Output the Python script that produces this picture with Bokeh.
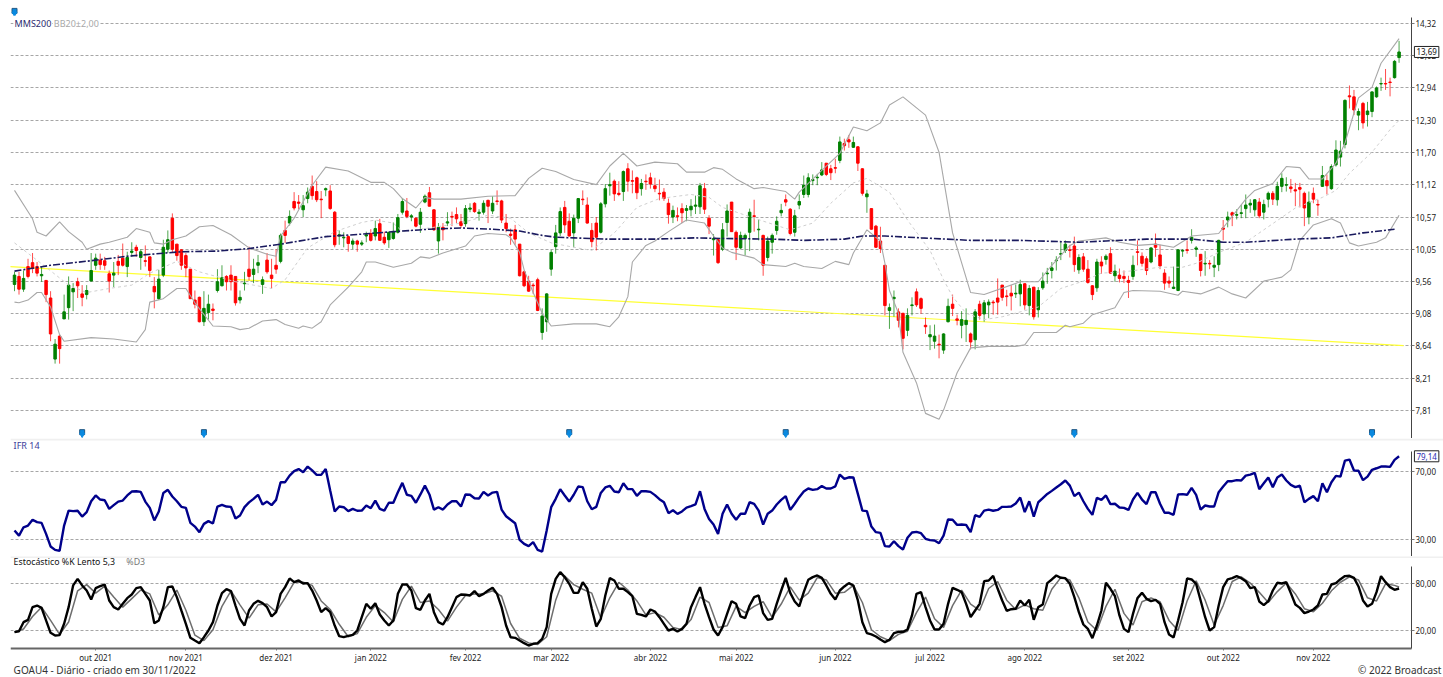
from bokeh.plotting import figure
from bokeh.layouts import column
from bokeh.models import Range1d, FixedTicker, Label, Span, ColumnDataSource
from bokeh.embed import file_html
from bokeh.resources import INLINE

opens = [9.51,9.63,9.44,9.78,9.84,9.78,9.64,9.57,9.31,8.46,
8.77,9.01,9.17,9.40,9.55,9.37,9.36,9.56,9.80,9.88,
9.87,9.67,9.65,9.86,9.91,9.78,10.00,10.08,9.92,9.87,
9.93,9.48,9.30,9.65,10.05,10.55,10.13,10.04,9.95,9.74,
9.28,9.32,8.97,9.10,9.15,9.42,9.49,9.63,9.65,9.63,
9.28,9.52,9.74,9.66,9.80,9.51,9.88,9.65,9.80,9.86,
10.35,10.47,10.83,10.82,10.69,10.88,11.09,11.00,10.87,11.03,
11.01,10.65,10.26,10.23,10.25,10.13,10.18,10.13,10.26,10.30,
10.26,10.46,10.24,10.20,10.22,10.32,10.65,10.67,10.57,10.55,
10.45,10.82,10.98,10.69,10.18,10.40,10.47,10.58,10.61,10.49,
10.46,10.70,10.80,10.63,10.65,10.85,10.67,10.84,10.84,10.47,
10.29,10.36,10.13,9.70,9.56,9.50,9.58,8.82,8.97,9.74,
10.09,10.31,10.73,10.50,10.31,10.55,10.87,10.77,10.35,10.47,
10.32,10.79,11.10,11.18,10.97,11.00,11.40,11.19,11.24,11.05,
11.18,11.24,11.10,10.97,10.99,10.80,10.57,10.59,10.71,10.68,
10.69,10.75,10.74,11.05,10.55,10.20,10.20,10.05,10.48,10.82,
10.32,10.07,10.22,10.32,10.59,10.36,10.27,9.92,10.16,10.35,
10.64,10.86,10.70,10.32,10.77,10.95,10.95,11.19,11.24,11.29,
11.50,11.40,11.42,11.55,11.86,11.93,11.79,11.80,11.40,10.91,
10.71,10.42,10.18,9.80,9.13,9.30,9.11,9.09,8.85,9.20,
9.40,9.30,8.92,8.76,8.70,8.66,8.58,8.97,9.22,9.01,
8.92,8.93,8.80,8.72,9.22,9.08,9.21,9.25,9.31,9.50,
9.34,9.38,9.37,9.37,9.52,9.20,9.47,9.14,9.46,9.67,
9.72,9.87,9.97,10.03,10.04,10.10,9.73,9.93,9.74,9.49,
9.46,9.85,9.89,9.98,9.64,9.65,9.63,9.57,9.63,10.01,
9.94,9.90,9.85,10.13,9.96,9.68,9.56,9.45,9.42,10.02,
10.04,10.19,10.05,9.97,9.82,9.83,9.77,9.81,10.39,10.52,
10.64,10.60,10.63,10.71,10.77,10.69,10.82,10.65,10.87,10.97,
10.86,11.09,11.11,11.08,11.03,11.07,10.97,10.57,10.97,10.78,
11.09,11.19,11.05,11.47,11.61,11.84,12.78,12.76,12.40,12.63,
12.41,12.47,12.76,13.02,13.03,13.06,13.15,13.57]

closes = [9.65,9.44,9.60,9.63,9.75,9.68,9.66,9.36,8.80,8.66,
8.60,9.11,9.50,9.45,9.49,9.32,9.42,9.72,9.91,9.81,
9.80,9.56,9.68,9.80,9.80,9.92,10.02,10.03,10.01,9.86,
9.72,9.40,9.59,10.08,10.20,10.05,9.95,9.80,9.76,9.30,
9.22,8.97,9.16,9.22,9.13,9.55,9.61,9.55,9.55,9.24,
9.32,9.53,9.63,9.74,9.84,9.58,9.70,9.60,9.74,10.27,
10.27,10.58,10.72,10.80,10.76,10.99,10.93,10.86,10.86,11.05,
10.71,10.12,10.28,10.24,10.14,10.18,10.13,10.15,10.28,10.19,
10.38,10.19,10.15,10.32,10.33,10.56,10.83,10.58,10.59,10.42,
10.65,10.92,10.75,10.36,10.40,10.36,10.49,10.57,10.54,10.43,
10.71,10.72,10.66,10.65,10.80,10.75,10.80,10.83,10.52,10.38,
10.27,10.21,9.64,9.49,9.41,9.49,9.13,9.05,9.37,10.00,
10.31,10.66,10.44,10.26,10.55,10.88,10.86,10.47,10.17,10.24,
10.79,11.05,11.12,10.96,10.95,11.35,11.18,11.18,10.98,11.14,
11.17,11.13,11.05,10.96,10.88,10.61,10.68,10.58,10.64,10.71,
10.75,10.77,11.10,10.70,10.42,10.22,9.84,10.36,10.67,10.33,
10.08,10.27,10.27,10.65,10.58,10.37,9.80,10.18,10.27,10.50,
10.68,10.82,10.30,10.59,10.83,11.11,11.24,11.21,11.25,11.38,
11.30,11.33,11.41,11.89,11.82,11.89,11.88,11.50,10.97,10.96,
10.37,10.08,10.06,9.20,9.17,9.32,8.99,8.74,9.06,9.21,
9.21,9.16,8.90,8.79,8.77,8.65,8.80,9.19,9.16,8.99,
9.00,8.99,8.69,9.11,9.06,9.24,9.25,9.24,9.25,9.32,
9.33,9.34,9.38,9.51,9.21,9.45,9.04,9.42,9.56,9.68,
9.76,9.88,9.98,10.13,10.03,9.81,9.92,9.74,9.54,9.36,
9.85,9.79,9.94,9.68,9.71,9.60,9.60,9.54,9.80,10.00,
9.83,9.72,10.07,10.08,9.79,9.53,9.53,9.47,10.04,10.03,
10.03,10.24,10.07,9.72,9.83,9.82,9.80,10.19,10.37,10.57,
10.60,10.61,10.64,10.77,10.80,10.86,10.59,10.78,10.97,10.87,
11.09,11.23,11.12,11.05,11.01,11.04,10.72,10.82,10.87,10.77,
11.28,11.10,11.44,11.74,11.72,12.69,12.76,12.50,12.47,12.25,
12.48,12.86,12.94,13.03,13.02,13.05,13.49,13.69]

highs = [9.70,9.70,9.72,9.90,9.99,9.85,9.78,9.57,9.41,8.73,
8.79,9.36,9.63,9.53,9.61,9.50,9.50,9.99,9.98,9.98,
9.93,9.72,9.85,9.96,10.14,10.01,10.16,10.12,10.05,10.11,
9.93,9.62,9.73,10.20,10.35,10.63,10.13,10.05,9.99,9.74,
9.42,9.33,9.41,9.36,9.23,9.74,9.80,9.65,9.80,9.63,
9.42,9.70,10.09,9.90,9.96,9.63,9.99,9.90,10.05,10.30,
10.51,10.68,10.99,10.94,10.94,11.07,11.28,11.18,11.01,11.07,
11.11,10.67,10.35,10.32,10.27,10.22,10.20,10.19,10.33,10.37,
10.51,10.54,10.33,10.33,10.48,10.62,10.89,10.89,10.62,10.57,
10.72,10.95,11.08,10.70,10.47,10.47,10.65,10.66,10.73,10.62,
10.77,10.80,10.82,10.70,10.85,10.86,10.92,11.02,10.86,10.62,
10.38,10.44,10.13,9.72,9.64,9.53,9.61,9.16,9.38,10.04,
10.44,10.73,10.84,10.63,10.61,10.89,11.02,10.90,10.47,10.57,
10.82,11.13,11.33,11.21,11.18,11.37,11.50,11.37,11.26,11.22,
11.30,11.33,11.24,11.21,11.06,10.88,10.76,10.73,10.80,10.77,
10.87,10.93,11.15,11.15,10.60,10.29,10.21,10.47,10.78,10.82,
10.35,10.33,10.30,10.71,10.86,10.53,10.28,10.25,10.30,10.58,
10.79,10.95,10.72,10.69,10.95,11.28,11.32,11.30,11.31,11.52,
11.50,11.47,11.58,11.99,11.95,12.02,11.99,11.81,11.41,11.03,
10.71,10.44,10.41,9.80,9.23,9.42,9.16,9.09,9.16,9.32,
9.45,9.32,9.03,8.92,8.93,8.79,8.81,9.30,9.36,9.07,
9.12,9.16,8.82,9.15,9.27,9.28,9.29,9.28,9.60,9.50,
9.43,9.50,9.51,9.58,9.53,9.50,9.47,9.47,9.69,9.76,
9.85,9.94,10.17,10.19,10.12,10.25,9.97,9.99,9.88,9.50,
9.90,9.94,9.97,10.08,9.81,9.75,9.72,9.64,9.95,10.19,
10.00,9.94,10.08,10.30,10.12,9.74,9.63,9.78,10.05,10.05,
10.19,10.37,10.10,9.97,10.02,9.88,9.94,10.20,10.52,10.66,
10.66,10.70,10.77,10.95,10.87,10.87,10.89,10.86,11.00,11.01,
11.17,11.32,11.25,11.22,11.15,11.15,11.00,11.00,11.07,10.86,
11.45,11.30,11.48,11.92,11.91,12.71,12.99,12.90,12.53,12.66,
12.66,12.87,12.97,13.15,13.33,13.15,13.52,13.93]

lows = [9.41,9.36,9.40,9.60,9.68,9.63,9.55,9.25,8.70,8.40,
8.40,9.01,9.00,9.12,9.31,9.19,9.29,9.56,9.73,9.73,
9.73,9.39,9.47,9.65,9.78,9.62,9.93,9.93,9.73,9.78,
9.62,9.16,9.28,9.62,9.99,9.99,9.87,9.73,9.62,9.30,
9.16,8.96,8.91,9.00,8.99,9.39,9.48,9.42,9.42,9.20,
9.23,9.42,9.57,9.53,9.68,9.37,9.67,9.45,9.67,9.83,
10.15,10.43,10.68,10.70,10.57,10.80,10.86,10.82,10.55,10.92,
10.69,10.08,10.12,10.08,10.01,10.05,10.01,10.10,10.16,10.17,
10.19,10.19,10.12,10.07,10.20,10.30,10.61,10.55,10.50,10.40,
10.31,10.80,10.75,10.34,9.98,10.19,10.42,10.42,10.47,10.39,
10.41,10.65,10.64,10.51,10.61,10.47,10.62,10.77,10.47,10.32,
10.12,10.12,9.63,9.47,9.40,9.37,9.12,8.72,8.83,9.64,
9.98,10.26,10.31,10.25,10.08,10.47,10.77,10.46,10.08,10.03,
10.30,10.73,10.93,10.84,10.92,10.84,11.00,10.97,10.87,10.93,
11.03,11.05,10.99,10.85,10.84,10.46,10.47,10.50,10.47,10.50,
10.58,10.62,10.62,10.62,10.29,9.95,9.82,10.02,10.25,10.33,
9.88,10.05,9.95,10.02,10.33,10.19,9.64,9.86,9.98,10.28,
10.58,10.75,10.27,10.25,10.70,10.89,10.90,11.11,11.11,11.27,
11.27,11.20,11.32,11.50,11.73,11.78,11.78,11.36,10.93,10.64,
10.36,10.07,9.99,9.06,8.87,9.04,8.89,8.59,8.77,9.06,
9.18,9.08,8.80,8.58,8.60,8.47,8.53,8.96,9.05,8.92,
8.74,8.69,8.59,8.59,9.00,8.97,9.02,9.07,9.07,9.27,
9.19,9.13,9.31,9.19,9.14,9.06,9.00,9.03,9.43,9.52,
9.60,9.72,9.88,9.99,9.92,9.70,9.67,9.70,9.52,9.28,
9.40,9.67,9.81,9.67,9.55,9.54,9.53,9.31,9.58,9.80,
9.78,9.65,9.83,9.93,9.74,9.43,9.46,9.44,9.41,9.93,
9.98,10.14,9.93,9.63,9.64,9.74,9.62,9.71,10.19,10.40,
10.42,10.53,10.55,10.55,10.64,10.58,10.55,10.53,10.73,10.77,
10.76,10.99,11.00,10.98,10.75,10.73,10.42,10.45,10.80,10.59,
11.08,10.95,11.03,11.44,11.44,11.77,12.53,12.40,12.11,12.14,
12.18,12.36,12.74,12.88,12.90,12.77,13.13,13.46]

upper_idx = [0,4,5,7,10,12,15,16,19,21,25,27,30,31,33,35,38,41,44,48,52,56,58,59,62,66,69,74,77,79,82,84,86,89,91,93,99,105,111,114,117,120,124,129,132,135,138,142,147,149,153,155,157,160,164,166,171,173,174,179,183,186,189,192,194,197,202,205,208,212,215,223,227,230,234,236,242,245,249,253,257,261,267,273,275,279,282,285,287,290,293,295,298,301,303,307]
upper_val = [11.02,10.54,10.32,10.26,10.49,10.33,10.16,10.05,10.13,10.16,10.24,10.38,10.32,10.15,10.13,10.20,10.26,10.41,10.43,10.28,10.07,9.97,9.94,10.26,10.55,11.11,11.43,11.36,11.24,11.16,11.16,11.05,10.88,10.72,10.90,10.87,10.87,10.92,10.93,11.23,11.41,11.35,11.21,11.12,11.45,11.68,11.45,11.52,11.49,11.34,11.34,11.42,11.39,11.22,11.05,11.07,11.00,10.87,10.99,11.37,11.68,12.17,12.10,12.25,12.60,12.76,12.40,11.70,10.31,9.39,9.36,9.55,9.55,9.80,10.11,10.18,10.23,10.16,10.11,10.13,10.08,10.26,10.30,10.87,11.02,11.14,11.44,11.42,11.22,11.22,11.50,11.87,12.74,12.95,13.45,13.98]

lower_idx = [0,1,3,5,6,8,10,11,17,22,27,29,30,33,36,38,40,44,48,50,52,55,58,60,63,64,66,68,70,74,77,78,80,84,88,90,92,95,100,102,105,109,110,112,113,115,117,119,124,129,132,134,136,137,140,142,145,149,153,155,157,159,164,166,171,173,175,179,182,185,186,189,192,193,194,196,197,200,202,205,206,209,212,216,222,224,226,231,233,234,237,239,244,246,248,254,258,259,263,267,270,273,277,281,283,285,288,292,294,296,298,302,304,307]
lower_val = [9.25,9.24,9.28,9.39,9.39,9.18,8.79,8.70,8.75,8.73,8.69,8.86,9.25,9.30,9.45,9.45,9.24,8.91,8.90,8.86,8.88,8.98,9.00,8.93,8.88,8.91,8.88,8.97,9.21,9.47,9.70,9.85,9.85,9.77,9.83,9.93,9.91,9.99,10.10,10.26,10.30,10.28,10.23,10.00,9.73,9.39,9.09,8.91,8.94,8.94,8.90,9.04,9.33,9.85,10.11,10.18,10.33,10.52,10.47,10.26,10.07,10.00,9.91,9.81,9.78,9.83,9.78,9.75,9.86,9.81,9.99,10.36,10.18,9.83,9.42,9.09,8.55,8.15,7.77,7.70,7.81,8.28,8.61,8.63,8.63,8.65,8.82,8.82,8.92,8.90,8.95,9.07,9.17,9.39,9.42,9.41,9.35,9.41,9.37,9.47,9.37,9.31,9.56,9.62,9.73,10.19,10.44,10.54,10.47,10.15,10.10,10.16,10.23,10.60]

mid_idx = [0,7,12,16,21,26,30,36,41,49,57,60,65,71,77,80,84,86,92,99,105,110,114,119,124,128,133,138,143,150,154,157,164,169,172,177,181,186,189,194,198,203,206,208,211,215,219,227,232,237,241,246,254,259,262,267,273,278,284,290,293,296,301,305,307]
mid_val = [10.15,9.77,9.50,9.39,9.45,9.50,9.68,9.86,9.70,9.55,9.45,9.58,10.07,10.33,10.48,10.52,10.47,10.33,10.39,10.47,10.60,10.55,10.31,10.15,10.08,10.03,10.31,10.73,10.88,10.95,10.90,10.73,10.55,10.43,10.36,10.47,10.80,11.15,11.23,10.99,10.52,10.03,9.58,9.33,9.09,9.00,9.04,9.18,9.45,9.56,9.68,9.70,9.77,9.77,9.83,10.00,10.16,10.41,10.72,10.90,11.02,11.32,11.70,12.12,12.30]

mms_idx = [0,8,17,25,37,45,52,59,69,77,84,92,99,106,112,117,120,124,131,142,151,157,168,175,184,188,193,201,212,223,236,242,251,261,268,273,284,292,299,306]
mms_val = [9.71,9.80,9.87,9.94,10.01,10.02,10.06,10.13,10.25,10.29,10.33,10.37,10.39,10.37,10.34,10.27,10.24,10.23,10.21,10.21,10.23,10.22,10.21,10.19,10.21,10.26,10.26,10.23,10.19,10.19,10.16,10.18,10.21,10.21,10.16,10.16,10.21,10.23,10.31,10.37]

trend_idx = [-1,308]
trend_val = [9.78,8.64]

event_idx = [15,42,123,171,235,301]
top_event_idx = [0]

price_ticks = [14.32,13.62,12.94,12.30,11.70,11.12,10.57,10.05,9.56,9.08,8.64,8.21,7.81]
price_labels = ["14,32","13,62","12,94","12,30","11,70","11,12","10,57","10,05","9,56","9,08","8,64","8,21","7,81"]

ifr = [35.5,32.5,37.4,38.4,41.8,40.4,40.0,33.5,26.1,24.1,23.5,38.4,47.2,46.9,47.1,43.7,46.3,52.7,56.1,53.7,53.3,48.2,50.4,52.5,53.1,56.1,58.4,58.6,58.2,52.5,48.8,41.4,46.7,57.6,59.4,55.5,52.7,49.4,48.8,40.0,37.8,34.5,39.4,41.0,39.6,49.6,50.6,49.6,49.4,42.5,44.3,49.2,52.0,54.1,56.5,50.8,52.5,50.4,53.5,63.9,63.9,67.8,70.4,71.6,69.8,73.1,70.8,68.2,68.2,71.6,59.0,46.7,49.6,49.2,46.9,48.2,47.1,47.2,50.2,48.6,53.1,48.2,47.2,51.8,51.8,58.0,63.5,56.5,55.9,51.8,56.7,61.9,56.7,47.8,49.2,47.8,50.8,52.7,52.7,49.6,56.7,56.5,54.5,54.3,
58.2,56.1,57.8,58.2,47.8,43.9,41.8,39.8,30.0,27.6,26.3,28.6,24.1,23.1,35.5,49.2,54.1,59.8,56.1,52.5,56.5,61.4,61.0,52.7,48.0,49.4,57.6,60.8,61.8,58.4,58.0,63.3,59.8,59.8,55.9,58.6,58.6,58.2,56.3,53.9,52.1,45.7,47.4,45.3,46.7,49.0,49.8,50.8,58.6,48.2,42.3,39.0,33.5,45.3,50.8,45.3,41.8,45.3,45.3,52.1,51.2,47.2,39.0,45.3,47.2,50.8,53.5,55.7,47.6,51.2,55.1,58.4,60.2,59.4,59.8,61.6,60.2,60.2,61.4,68.4,65.9,66.8,66.7,57.0,47.2,46.9,37.8,34.5,34.1,26.3,26.1,29.2,26.3,24.3,31.2,34.3,34.7,33.9,30.6,29.8,29.6,28.0,32.5,42.0,41.8,38.8,
39.0,38.8,34.5,44.5,43.5,47.2,47.8,47.1,47.6,49.4,49.4,49.6,51.4,54.9,46.3,52.7,43.7,52.1,54.5,57.0,58.8,60.8,62.7,64.9,61.9,55.7,57.8,52.7,48.2,44.7,54.7,53.5,56.1,51.0,51.2,49.0,48.8,47.6,53.7,57.6,53.7,51.0,58.0,58.0,51.2,45.9,45.9,44.7,56.7,56.9,56.5,60.6,56.5,47.8,50.2,49.6,49.6,58.0,61.4,64.5,64.5,65.1,64.9,67.8,68.4,69.4,59.8,63.3,66.7,61.0,66.7,68.4,64.9,62.3,61.0,61.8,52.1,54.1,55.7,52.7,63.3,58.0,63.9,67.6,67.2,76.6,77.2,70.8,70.6,65.1,67.2,71.2,72.1,73.1,73.1,72.9,77.0,79.14]

stoch_k = [17.9,19.1,30.7,33.7,50.0,52.1,49.1,32.9,17.0,13.6,14.0,28.6,50.0,77.9,86.4,77.9,71.4,59.9,74.4,77.0,79.1,58.6,50.0,47.0,54.3,61.6,66.3,74.4,75.7,67.1,58.6,29.4,32.9,50.0,75.7,76.6,62.9,45.7,28.6,10.6,7.1,3.7,11.4,20.0,30.7,52.1,68.0,73.1,70.6,52.1,35.0,26.4,45.7,54.3,58.1,55.1,50.0,38.0,43.6,67.1,75.7,86.9,82.1,84.3,80.4,80.9,71.4,58.6,43.6,48.7,43.6,26.4,12.7,11.4,13.1,14.4,20.0,37.1,54.3,47.9,55.1,40.6,32.9,26.4,32.9,67.1,79.1,79.1,71.4,48.7,46.6,58.6,67.1,43.6,30.7,27.7,37.1,50.0,62.9,66.3,65.9,65.0,70.6,64.1,
67.1,71.4,74.9,67.1,50.0,26.4,11.4,10.6,7.1,3.7,0.7,2.9,3.7,9.3,24.3,67.1,86.4,95.0,88.6,80.0,68.4,68.4,82.1,73.6,47.9,25.1,35.0,65.0,87.3,84.3,73.6,73.6,69.3,64.1,41.4,40.1,38.0,47.0,44.4,37.1,28.6,20.0,22.1,18.7,22.1,28.6,50.0,62.9,75.7,54.3,37.1,21.3,13.6,24.3,41.4,57.7,54.3,38.0,35.9,52.1,62.9,65.0,42.3,33.7,35.0,54.3,71.4,87.7,68.4,57.3,50.9,69.3,85.1,88.6,90.7,87.7,77.9,67.1,59.9,71.4,76.6,80.9,77.9,58.6,30.7,16.6,14.9,12.3,8.4,5.0,8.0,16.6,18.3,18.3,21.3,39.3,67.1,69.3,50.0,32.9,21.3,21.3,28.6,54.3,74.9,72.3,
69.3,54.3,37.1,45.7,54.3,83.4,84.3,90.3,73.6,58.6,45.3,47.4,47.9,58.6,52.1,59.4,33.7,50.0,53.4,80.9,85.6,90.7,87.7,87.3,80.0,62.9,43.6,27.7,22.1,10.1,26.4,45.7,81.3,73.6,64.1,39.3,22.1,17.9,41.4,61.6,68.4,60.7,57.7,59.4,54.3,30.7,14.9,11.0,32.9,56.4,86.9,85.6,80.0,58.6,37.1,20.0,24.3,52.1,75.7,85.6,87.3,89.9,87.3,83.4,74.4,75.7,57.3,52.6,57.7,71.4,81.3,80.4,82.1,68.0,53.4,49.1,42.3,44.4,47.0,52.1,66.3,67.1,79.1,80.9,86.0,89.9,90.3,87.7,76.6,58.6,50.9,54.3,69.3,89.9,82.1,75.7,72.3,74.0]

stoch_d_idx = list(range(0, 308, 2)) + [307]
stoch_d = [18,22,38,50,33,15,31,71,79,68,77,63,50,61,72,67,40,53,72,46,14,7,21,51,71,53,36,53,54,44,62,82,82,78,58,47,28,12,16,37,52,43,31,60,77,56,58,47,32,50,65,67,
67,71,64,29,10,4,2,12,59,90,79,73,68,36,62,82,72,58,40,43,37,24,21,34,63,56,24,26,51,43,51,57,37,54,76,59,68,88,85,68,69,78,56,21,12,7,15,19,43,63,35,24,52,
72,54,46,74,83,59,47,53,48,46,73,88,85,62,31,20,51,73,42,27,57,62,57,33,20,58,84,59,27,52,83,89,81,69,56,70,81,67,48,44,55,71,82,89,85,62,58,80,78,76]

month_idx = [18,38,58,79,100,119,141,160,182,203,224,247,268,288]
month_labels = ["out 2021","nov 2021","dez 2021","jan 2022","fev 2022","mar 2022","abr 2022","mai 2022","jun 2022","jul 2022","ago 2022","set 2022","out 2022","nov 2022"]

FONT = "Noto Sans"
GRID = "#a6a6a6"
X_LEFT, X_AXIS, X_RIGHT = -0.887, 309.76, 316.85
x_all = list(range(len(opens)))


def base(h, y_range, y_type="linear", xaxis=False):
    p = figure(width=1443, height=h, output_backend="svg", toolbar_location=None,
               x_range=Range1d(X_LEFT, X_RIGHT), y_range=y_range, y_axis_type=y_type,
               y_axis_location="right", x_axis_location="below" if xaxis else None,
               min_border_left=10, min_border_right=0, min_border_top=0, min_border_bottom=0)
    p.outline_line_color = None
    p.xgrid.visible = False
    return p


def style_y(p, ticks, labels, bounds, low, high):
    t = FixedTicker(ticks=ticks)
    ax = p.yaxis[0]
    ax.ticker = t
    ax.fixed_location = X_AXIS
    ax.major_label_overrides = dict(zip(ticks, labels))
    ax.major_label_text_font = FONT
    ax.major_label_text_font_size = "8px"
    ax.major_label_text_color = "#222222"
    ax.major_label_standoff = 1
    ax.major_tick_in = 0
    ax.major_tick_out = 3
    ax.major_tick_line_color = "#777777"
    ax.minor_tick_line_color = None
    ax.axis_line_color = "#444444"
    ax.bounds = bounds
    p.ygrid.ticker = t
    p.ygrid.grid_line_color = GRID
    p.ygrid.grid_line_dash = "3 2"
    p.ygrid.grid_line_width = 1
    # white mask: gridlines stop at the axis line
    p.quad(left=[X_AXIS], right=[X_RIGHT], bottom=[low], top=[high], fill_color="white", line_color=None)


def text(p, x, y, s, color, size="9px", align="left", box=False, bg=False, pad=2):
    lab = Label(x=x, y=y, text=s, text_color=color, text_font=FONT, text_font_size=size,
                text_align=align, text_baseline="middle")
    if box or bg:
        lab.background_fill_color = "white"
        lab.padding = pad
    if box:
        lab.border_line_color = "#222222"
    p.add_layout(lab)


# ---- price panel
P_LOW, P_HIGH = 7.47, 14.84
p1 = base(438, Range1d(P_LOW, P_HIGH), "log")
style_y(p1, price_ticks, price_labels, (P_LOW, 14.46), P_LOW, P_HIGH)
colors = ["#008000" if c >= o else "#ff0000" for o, c in zip(opens, closes)]
src = ColumnDataSource(dict(x=x_all, high=highs, low=lows,
                            top=[max(a, b) for a, b in zip(opens, closes)],
                            bottom=[min(a, b) for a, b in zip(opens, closes)],
                            color=colors))
p1.line(trend_idx, trend_val, line_color="#ffff33", line_width=1.2)
p1.segment(x0="x", x1="x", y0="low", y1="high", line_color="color", line_width=1, line_alpha=0.7, source=src)
p1.vbar(x="x", width=0.55, top="top", bottom="bottom", fill_color="color", line_color="color", line_width=1, source=src)
p1.line(mid_idx, mid_val, line_color="#cfcfcf", line_width=1, line_dash="3 3")
p1.line(upper_idx, upper_val, line_color="#a8a8a8", line_width=1.1)
p1.line(lower_idx, lower_val, line_color="#a8a8a8", line_width=1.1)
p1.line(mms_idx, mms_val, line_color="#1a1a5e", line_width=1.6, line_dash="7 2 2 2")
for xs, y_top, y_tip in [(event_idx, 7.545, 7.515), (top_event_idx, 14.60, 14.54)]:
    p1.scatter(xs, [y_top] * len(xs), marker="square", size=5, fill_color="#0a8ae0", line_color="#235a86")
    p1.scatter(xs, [y_tip] * len(xs), marker="inverted_triangle", size=5, fill_color="#0a8ae0", line_color="#0a8ae0")
text(p1, -0.2, 14.32, "MMS200", "#2b2b6e", bg=True, pad=1)
text(p1, 8.5, 14.32, "BB20±2,00", "#a8a8a8", bg=True, pad=1)
text(p1, 310.4, 13.69, "13,69", "#111111", "8px", box=True)

# ---- IFR panel
I_LOW, I_HIGH = 20.2, 89.6
p2 = base(118, Range1d(I_LOW, I_HIGH))
style_y(p2, [70, 30], ["70,00", "30,00"], (I_LOW, 82), I_LOW, I_HIGH)
p2.line(x_all[:len(ifr)], ifr, line_color="#00008b", line_width=2.4)
p2.add_layout(Span(location=89.0, dimension="width", line_color="#f0f0f0", line_width=2))
text(p2, -0.2, 85.5, "IFR 14", "#3a3a9a", "9px")
text(p2, 310.4, 79.14, "79,14", "#2a2ab0", "8px", box=True)

# ---- stochastic panel
S_LOW, S_AXIS, S_HIGH = -40.4, -3.1, 115.1
p3 = base(121, Range1d(S_LOW, S_HIGH), xaxis=True)
style_y(p3, [80, 20], ["80,00", "20,00"], (S_AXIS, 102), S_LOW, S_HIGH)
p3.line(stoch_d_idx, stoch_d, line_color="#6e6e6e", line_width=1.5)
p3.line(x_all[:len(stoch_k)], stoch_k, line_color="#000000", line_width=2.4)
p3.add_layout(Span(location=114.3, dimension="width", line_color="#f0f0f0", line_width=2))
ax = p3.xaxis[0]
ax.ticker = FixedTicker(ticks=month_idx)
ax.fixed_location = S_AXIS
ax.bounds = (X_LEFT, X_AXIS)
ax.major_label_overrides = dict(zip(month_idx, month_labels))
ax.major_label_text_font = FONT
ax.major_label_text_font_size = "8px"
ax.major_label_text_color = "#222222"
ax.major_label_standoff = 2
ax.major_tick_in = 0
ax.major_tick_out = 2
ax.major_tick_line_color = "#777777"
ax.minor_tick_line_color = None
ax.axis_line_color = "#666666"
ax.axis_line_width = 2
text(p3, -0.2, 107.4, "Estocástico %K Lento 5,3", "#111111", "8.8px")
text(p3, 24.8, 107.4, "%D3", "#777777", "8.8px")
text(p3, -0.2, -31.4, "GOAU4 - Diário - criado em 30/11/2022", "#333333", "10px")
text(p3, 316.4, -31.4, "© 2022 Broadcast", "#333333", "10px", align="right")

page = column(p1, p2, p3, spacing=0)
open("out.html", "w").write(file_html(page, INLINE))
